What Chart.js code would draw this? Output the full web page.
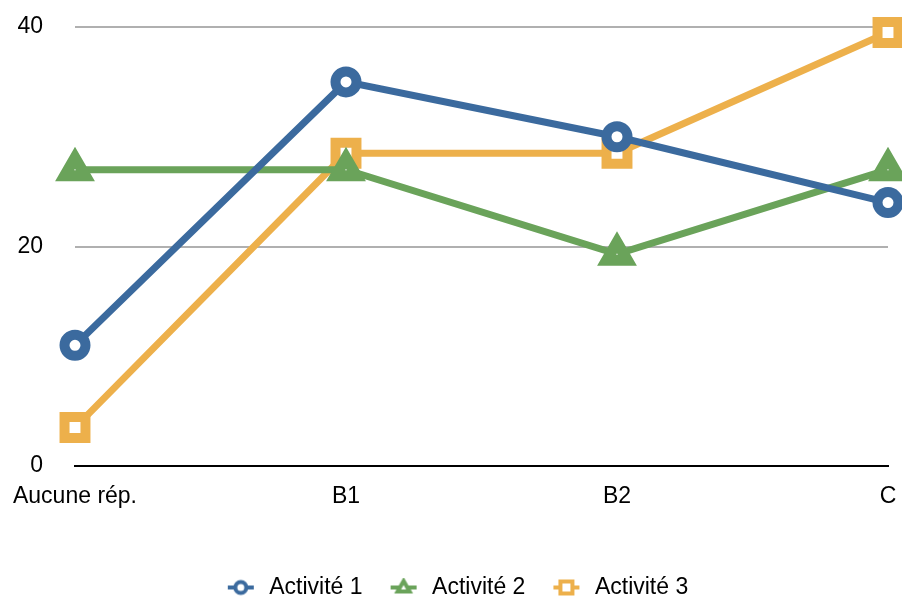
<!DOCTYPE html>
<html>
<head>
<meta charset="utf-8">
<script src="https://cdn.jsdelivr.net/npm/chart.js@4/dist/chart.umd.min.js"></script>
<style>
html,body{margin:0;padding:0;background:#fff;}
#wrap{width:902px;height:599px;position:relative;}
</style>
</head>
<body>
<div id="wrap"><canvas id="c" width="902" height="599"></canvas></div>
<script>
const categories = ['Aucune rép.', 'B1', 'B2', 'C'];
const seriesNames = ['Activité 1', 'Activité 2', 'Activité 3'];
const activite1 = [11, 35, 30, 24];
const activite2 = [27, 27, 19.3, 27];
const activite3 = [3.5, 28.5, 28.5, 39.5];
const yTicks = [0, 20, 40];

const colors = ['#3B6A9E', '#6AA35A', '#EDB04B'];
const styles = ['circle', 'triangle', 'rect'];

function legendMarker(color, style) {
  const cv = document.createElement('canvas');
  cv.width = 28; cv.height = 20;
  const g = cv.getContext('2d');
  g.strokeStyle = color; g.fillStyle = '#fff';
  g.lineWidth = 4;
  g.beginPath(); g.moveTo(1, 10); g.lineTo(27, 10); g.stroke();
  g.lineWidth = 4;
  g.beginPath();
  if (style === 'circle') {
    g.arc(14, 10, 5.5, 0, Math.PI * 2);
  } else if (style === 'triangle') {
    g.moveTo(14, 3.5); g.lineTo(20, 14); g.lineTo(8, 14); g.closePath();
  } else {
    g.rect(8, 4, 12, 12);
  }
  g.fill(); g.stroke();
  return cv;
}
const markers = colors.map((c, i) => legendMarker(c, styles[i]));

const dataSeries = [activite1, activite2, activite3];
const pointRadius = [10.5, 12, 14.8];
const pointBW = [10, 11, 10];

const datasets = dataSeries.map((d, i) => ({
  label: seriesNames[i],
  data: d,
  borderColor: colors[i],
  backgroundColor: colors[i],
  borderWidth: 7,
  pointStyle: styles[i],
  pointRadius: pointRadius[i],
  pointHoverRadius: pointRadius[i],
  pointBorderWidth: pointBW[i],
  pointBorderColor: colors[i],
  pointBackgroundColor: '#fff',
  tension: 0,
  clip: false
}));

const FONT = "'Liberation Sans', Arial, Helvetica, sans-serif";

const shiftLegend = {
  id: 'shiftLegend',
  afterLayout(chart) {
    if (chart.legend) { chart.legend.left += 12; chart.legend.right += 12; }
  }
};

new Chart(document.getElementById('c'), {
  type: 'line',
  data: { labels: categories, datasets },
  plugins: [shiftLegend],
  options: {
    responsive: false,
    animation: false,
    events: [],
    layout: { autoPadding: false, padding: { left: 0, right: 14, top: 27, bottom: -10 } },
    plugins: {
      tooltip: { enabled: false },
      legend: {
        position: 'bottom',
        labels: {
          usePointStyle: true,
          pointStyleWidth: 34,
          padding: 24,
          color: '#000',
          font: { family: FONT, size: 23 },
          generateLabels: (chart) => chart.data.datasets.map((ds, i) => ({
            text: ds.label,
            pointStyle: markers[i],
            fillStyle: ds.borderColor,
            strokeStyle: ds.borderColor,
            lineWidth: 0,
            datasetIndex: i,
            fontColor: '#000'
          }))
        }
      }
    },
    scales: {
      x: {
        offset: false,
        grid: { display: false, drawTicks: false },
        border: { display: true, color: '#000', width: 2 },
        ticks: { color: '#000', padding: 17, maxRotation: 0, autoSkip: false, font: { family: FONT, size: 23 } },
        afterFit: (s) => { s.height = 86; s.paddingLeft = 0; s.paddingRight = 0; }
      },
      y: {
        min: 0, max: 40,
        afterBuildTicks: (s) => { s.ticks = yTicks.map(v => ({ value: v })); },
        grid: { color: '#B0B0B0', lineWidth: 2, drawTicks: false },
        border: { display: false },
        ticks: { color: '#000', padding: 32, font: { family: FONT, size: 23 } },
        afterFit: (s) => { s.width = 75; s.paddingTop = 0; s.paddingBottom = 0; }
      }
    }
  }
});
</script>
</body>
</html>
